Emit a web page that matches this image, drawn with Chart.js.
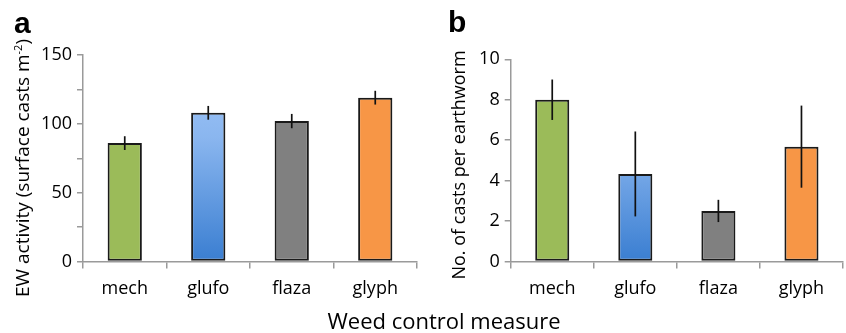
<!DOCTYPE html>
<html>
<head>
<meta charset="utf-8">
<script src="https://cdn.jsdelivr.net/npm/chart.js@4"></script>
<style>
  html, body { margin: 0; padding: 0; background: #fff; }
  #wrap { position: relative; width: 846px; height: 333px; overflow: hidden; font-family: "Open Sans", sans-serif; color: #000; }
  .box { position: absolute; top: 0; width: 423px; height: 333px; }
  .panel { position: absolute; font: bold 30px "Liberation Sans", Arial, sans-serif; line-height: 1; }
  .ytitle { position: absolute; white-space: nowrap; font-size: 18px; transform: translate(-50%, -50%) rotate(-90deg); }
  .xtitle { position: absolute; white-space: nowrap; font-size: 22px; transform: translate(-50%, -50%); }
</style>
</head>
<body>
<div id="wrap">
  <div class="box" style="left:0"><canvas id="chartA"></canvas></div>
  <div class="box" style="left:423px"><canvas id="chartB"></canvas></div>
  <div class="panel" style="left:14px; top:8px">a</div>
  <div class="panel" style="left:448px; top:7px">b</div>
  <div class="ytitle" style="left:22px; top:168px; font-size:19px">EW activity (surface casts m<sup style="font-size:11px">-2</sup>)</div>
  <div class="ytitle" style="left:458px; top:165px">No. of casts per earthworm</div>
  <div class="xtitle" style="left:444px; top:320px">Weed control measure</div>
</div>
<script>
// 数据
const categories = ['mech', 'glufo', 'flaza', 'glyph'];
const activity = [86, 108, 102, 119];
const activityErr = [5, 5, 5.2, 5];
const casts = [8.0, 4.33, 2.5, 5.68];
const castsErr = [1.0, 2.1, 0.55, 2.03];

const axisGrey = '#9a9a9a';
const tickFont = { family: 'Open Sans', size: 18 };

// 误差线插件
const errorBars = {
    id: 'errorBars',
    afterDatasetsDraw(chart, args, opts) {
        const { ctx } = chart;
        const y = chart.scales.y;
        const meta = chart.getDatasetMeta(0);
        const vals = chart.data.datasets[0].data;
        ctx.save();
        ctx.strokeStyle = '#111';
        ctx.lineWidth = 1.7;
        meta.data.forEach((bar, i) => {
            ctx.beginPath();
            ctx.moveTo(bar.x, y.getPixelForValue(vals[i] - opts.err[i]));
            ctx.lineTo(bar.x, y.getPixelForValue(vals[i] + opts.err[i]));
            ctx.stroke();
        });
        ctx.restore();
    }
};

function barColors(ctx) {
    const i = ctx.dataIndex;
    if (i === 1) {
        const area = ctx.chart.chartArea;
        if (!area) return '#8ab6ef';
        const bar = ctx.chart.getDatasetMeta(0).data[1];
        const top = bar && isFinite(bar.y) ? bar.y : area.top;
        const g = ctx.chart.ctx.createLinearGradient(0, top, 0, area.bottom);
        g.addColorStop(0, '#a3c8fa');
        g.addColorStop(0.4, '#8ab6ef');
        g.addColorStop(1, '#3a7ed1');
        return g;
    }
    return ['#9bbb59', null, '#808080', '#f79646'][i];
}

function makeChart(el, values, err, max, step, labelStep, left, top, right) {
    return new Chart(el.getContext('2d'), {
        type: 'bar',
        data: {
            labels: categories,
            datasets: [{
                data: values,
                backgroundColor: barColors,
                borderColor: '#1a1a1a',
                borderWidth: 2,
                borderSkipped: false,
                categoryPercentage: 1,
                barPercentage: 0.41
            }]
        },
        plugins: [errorBars],
        options: {
            responsive: true,
            maintainAspectRatio: false,
            animation: false,
            layout: { padding: { left: 0, top: top, right: right, bottom: 0 } },
            plugins: {
                legend: { display: false },
                tooltip: { enabled: false },
                errorBars: { err: err }
            },
            scales: {
                x: {
                    grid: { display: true, drawOnChartArea: false, offset: true, tickLength: 7, color: axisGrey, lineWidth: 1.5 },
                    border: { color: axisGrey, width: 1.5 },
                    ticks: { color: '#000', font: tickFont, padding: 10 },
                    afterFit: s => { s.height = 333 - 261.5; }
                },
                y: {
                    min: 0,
                    max: max,
                    grid: { display: true, drawOnChartArea: false, tickLength: 6, color: axisGrey, lineWidth: 1.5 },
                    border: { color: axisGrey, width: 1.5 },
                    ticks: {
                        stepSize: step,
                        color: '#000',
                        font: tickFont,
                        padding: 5,
                        callback: v => (v % labelStep === 0 ? v : '')
                    },
                    afterFit: s => { s.width = left; }
                }
            }
        }
    });
}

makeChart(document.getElementById('chartA'), activity, activityErr, 150, 25, 50, 83, 55, 6);
makeChart(document.getElementById('chartB'), casts, castsErr, 10, 1, 2, 87.7, 59.3, 3);
</script>
</body>
</html>
